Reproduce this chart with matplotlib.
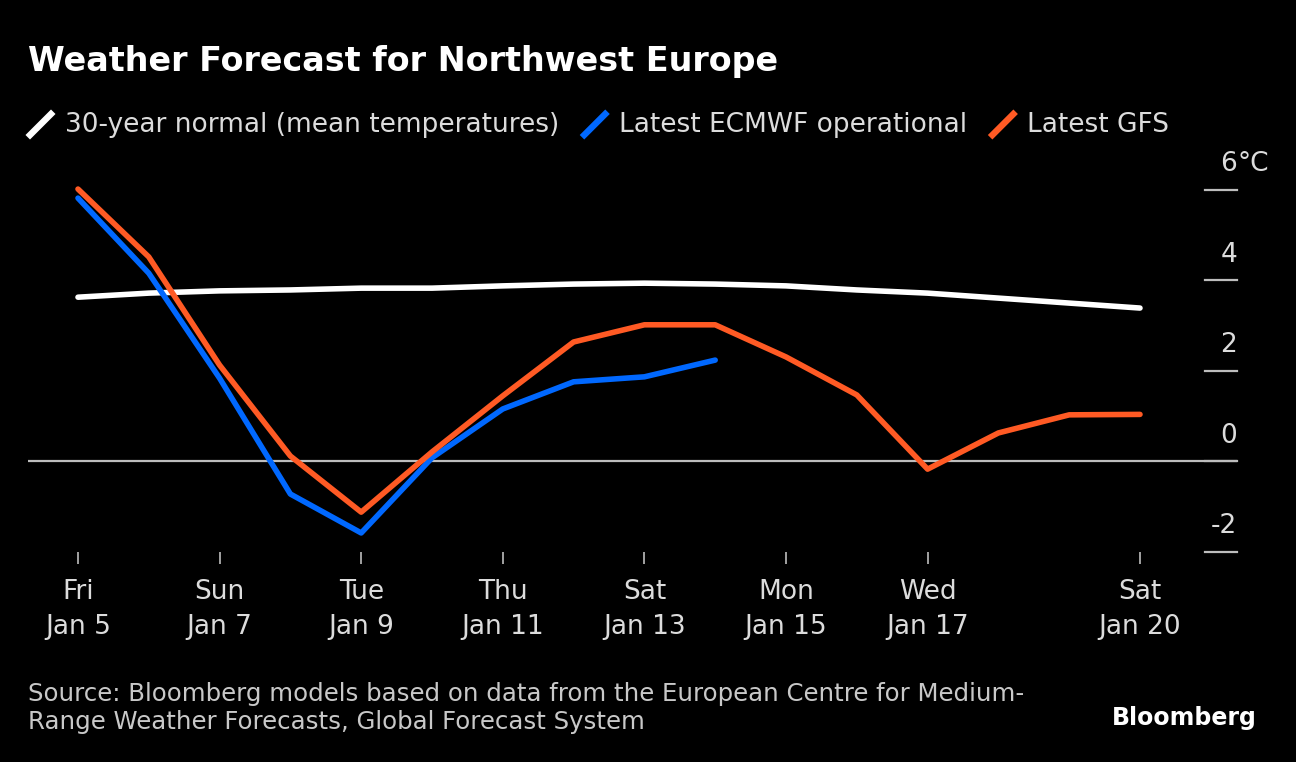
import numpy as np
import matplotlib
matplotlib.use("Agg")
import matplotlib.pyplot as plt
from matplotlib.lines import Line2D
import matplotlib.transforms as mtransforms

plt.rcParams['font.family'] = ['DejaVu Sans']

# data (degrees C), day 0 = Jan 5
days = np.arange(16)
normal = [3.62, 3.71, 3.76, 3.78, 3.82, 3.82, 3.87, 3.91, 3.93, 3.91, 3.87, 3.78, 3.71, 3.60, 3.49, 3.38]
ecmwf = [5.81, 4.15, 1.83, -0.73, -1.59, 0.07, 1.15, 1.75, 1.86, 2.23]
gfs = [6.01, 4.51, 2.12, 0.11, -1.13, 0.20, 1.44, 2.63, 3.01, 3.01, 2.30, 1.46, -0.18, 0.62, 1.02, 1.03]

tick_days = [0, 2, 4, 6, 8, 10, 12, 15]
tick_wd = ["Fri", "Sun", "Tue", "Thu", "Sat", "Mon", "Wed", "Sat"]
tick_dates = ["Jan 5", "Jan 7", "Jan 9", "Jan 11", "Jan 13", "Jan 15", "Jan 17", "Jan 20"]
y_ticks = [6, 4, 2, 0, -2]

series_names = ["30-year normal (mean temperatures)", "Latest ECMWF operational", "Latest GFS"]
colors = ["#ffffff", "#0068ff", "#ff5a24"]
txt = "#dcdcdc"

W, H = 1296, 762
fig = plt.figure(figsize=(W / 100, H / 100), dpi=100, facecolor="black")
ax = fig.add_axes([28 / W, 1 - 551.5 / H, (1237 - 28) / W, (551.5 - 170) / H])
ax.set_facecolor("black")
ax.set_xlim(-0.706, 16.37)
ax.set_ylim(-2.0, 6.431)
for s in ax.spines.values():
    s.set_visible(False)

ax.axhline(0, color="#bdbdbd", lw=1.6, zorder=1)

ax.plot(days, normal, color=colors[0], lw=4.0, solid_capstyle="round", zorder=3)
ax.plot(days[:len(ecmwf)], ecmwf, color=colors[1], lw=4.0, solid_capstyle="round", zorder=4)
ax.plot(days, gfs, color=colors[2], lw=4.0, solid_capstyle="round", zorder=5)

# x ticks
ax.set_xticks(tick_days)
ax.set_xticklabels([f"{a}\n{b}" for a, b in zip(tick_wd, tick_dates)], color=txt, fontsize=19, linespacing=1.42)
ax.tick_params(axis="x", length=8.5, width=1.2, color="#bdbdbd", pad=11.5)

# y ticks drawn on the right
ax.set_yticks([])
tr = mtransforms.blended_transform_factory(ax.transAxes, ax.transData)
x0 = (1205 - 28) / (1237 - 28)
for v in y_ticks:
    ax.plot([x0, 1.0], [v, v], color="#bdbdbd", lw=1.6, transform=tr, clip_on=False)
    ax.text(1.0, v + 0.27, str(v), transform=tr, ha="right", va="bottom", color=txt, fontsize=19)
ax.text(1.0, y_ticks[0] + 0.27, "°C", transform=tr, ha="left", va="bottom", color=txt, fontsize=19)

fig.text(28 / W, 1 - 62 / H, "Weather Forecast for Northwest Europe", color="white",
         fontsize=24, fontweight="bold", va="center", ha="left")

# legend
renderer = fig.canvas.get_renderer()
x = 30
ly = 1 - 124.5 / H
for name, c in zip(series_names, colors):
    fig.add_artist(Line2D([x / W, (x + 21) / W], [1 - 135 / H, 1 - 114 / H], color=c, lw=4.6,
                          transform=fig.transFigure))
    t = fig.text((x + 35) / W, ly, name, color=txt, fontsize=19, va="center", ha="left")
    bb = t.get_window_extent(renderer)
    x = bb.x1 + 25

fig.text(28 / W, 1 - 708 / H,
         "Source: Bloomberg models based on data from the European Centre for Medium-\nRange Weather Forecasts, Global Forecast System",
         color="#c8c8c8", fontsize=17.6, va="center", ha="left", linespacing=1.2)
fig.text(1257 / W, 1 - 718 / H, "Bloomberg", color="white", fontsize=17, fontweight="bold",
         va="center", ha="right")

fig.savefig("out.png", dpi=100, facecolor="black")
